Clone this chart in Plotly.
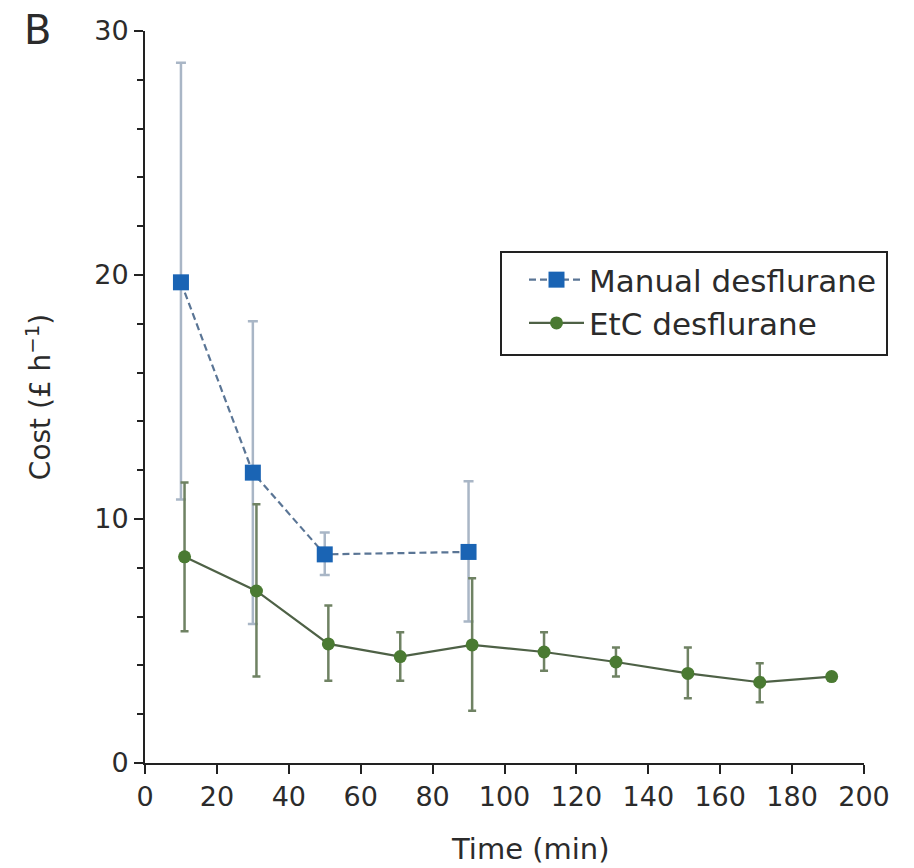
import plotly.graph_objects as go

# ---- data ----
manual_time = [10, 30, 50, 90]
manual_cost = [19.7, 11.9, 8.55, 8.65]
manual_upper = [28.7, 18.1, 9.45, 11.55]
manual_lower = [10.8, 5.7, 7.7, 5.8]

etc_time = [11, 31, 51, 71, 91, 111, 131, 151, 171, 191]
etc_cost = [8.45, 7.05, 4.88, 4.36, 4.84, 4.55, 4.14, 3.67, 3.31, 3.54]
etc_upper = [11.5, 10.6, 6.45, 5.36, 7.57, 5.36, 4.73, 4.73, 4.09, 3.68]
etc_lower = [5.4, 3.54, 3.37, 3.37, 2.14, 3.78, 3.54, 2.65, 2.49, 3.40]

x_ticks = [0, 20, 40, 60, 80, 100, 120, 140, 160, 180, 200]
y_ticks = [0, 10, 20, 30]

FONT = "DejaVu Sans, sans-serif"
TXT = "#2b2b2b"

fig = go.Figure()

fig.add_trace(go.Scatter(
    x=manual_time, y=manual_cost, name="Manual desflurane",
    mode="lines+markers",
    line=dict(color="#5a7595", width=2.2, dash="7px,4px"),
    marker=dict(symbol="square", size=16, color="#1a64b4"),
    error_y=dict(type="data", symmetric=False,
                 array=[u - v for u, v in zip(manual_upper, manual_cost)],
                 arrayminus=[v - l for v, l in zip(manual_cost, manual_lower)],
                 color="#a9b6c6", thickness=2.5, width=5),
))

fig.add_trace(go.Scatter(
    x=etc_time, y=etc_cost, name="EtC desflurane",
    mode="lines+markers",
    line=dict(color="#4e6146", width=2.2),
    marker=dict(symbol="circle", size=13, color="#4a7a32"),
    error_y=dict(type="data", symmetric=False,
                 array=[u - v for u, v in zip(etc_upper, etc_cost)],
                 arrayminus=[v - l for v, l in zip(etc_cost, etc_lower)],
                 color="#6f8263", thickness=2.5, width=4),
))

L, R, T, B = 145, 50, 31, 105
W, H = 914, 868
pw, ph = W - L - R, H - T - B

def px_x(p):
    return (p - L) / pw

def px_y(p):
    return (H - B - p) / ph

fig.update_layout(
    width=W, height=H,
    margin=dict(l=L, r=R, t=T, b=B, pad=0),
    paper_bgcolor="white", plot_bgcolor="white",
    font=dict(family=FONT, color=TXT, size=27),
    showlegend=True,
    legend=dict(
        x=px_x(524), y=px_y(253), xanchor="left", yanchor="top",
        bgcolor="rgba(0,0,0,0)", borderwidth=0,
        font=dict(size=31, family=FONT, color=TXT),
        itemwidth=55, tracegroupgap=0,
    ),
    xaxis=dict(
        range=[0, 200], tickvals=x_ticks, ticktext=[str(v) for v in x_ticks],
        showgrid=False, zeroline=False,
        showline=True, linecolor="#222", linewidth=2,
        ticks="outside", ticklen=9, tickwidth=2, tickcolor="#222",
        tickfont=dict(size=27),
    ),
    yaxis=dict(
        range=[0, 30], tickvals=y_ticks, ticktext=[str(v) for v in y_ticks],
        showgrid=False, zeroline=False,
        showline=True, linecolor="#222", linewidth=2,
        ticks="outside", ticklen=9, tickwidth=2, tickcolor="#222",
        tickfont=dict(size=27),
        minor=dict(dtick=2, ticks="outside", ticklen=6, tickwidth=2, tickcolor="#222", showgrid=False),
        title=dict(text="Cost (£ h<sup>−1</sup>)", font=dict(size=28), standoff=35),
    ),
    annotations=[
        dict(text="B", xref="paper", yref="paper",
             x=px_x(37), y=px_y(30), xanchor="center", yanchor="middle",
             showarrow=False, font=dict(size=40, family=FONT, color=TXT)),
        dict(text="Time (min)", xref="paper", yref="paper",
             x=px_x(530), y=px_y(849), xanchor="center", yanchor="middle",
             showarrow=False, font=dict(size=29, family=FONT, color=TXT)),
    ],
    shapes=[dict(
        type="rect", xref="paper", yref="paper",
        x0=px_x(501), x1=px_x(887), y0=px_y(355), y1=px_y(252),
        line=dict(color="#222", width=2), fillcolor="rgba(0,0,0,0)",
    )],
)

fig.write_html("out.html")
